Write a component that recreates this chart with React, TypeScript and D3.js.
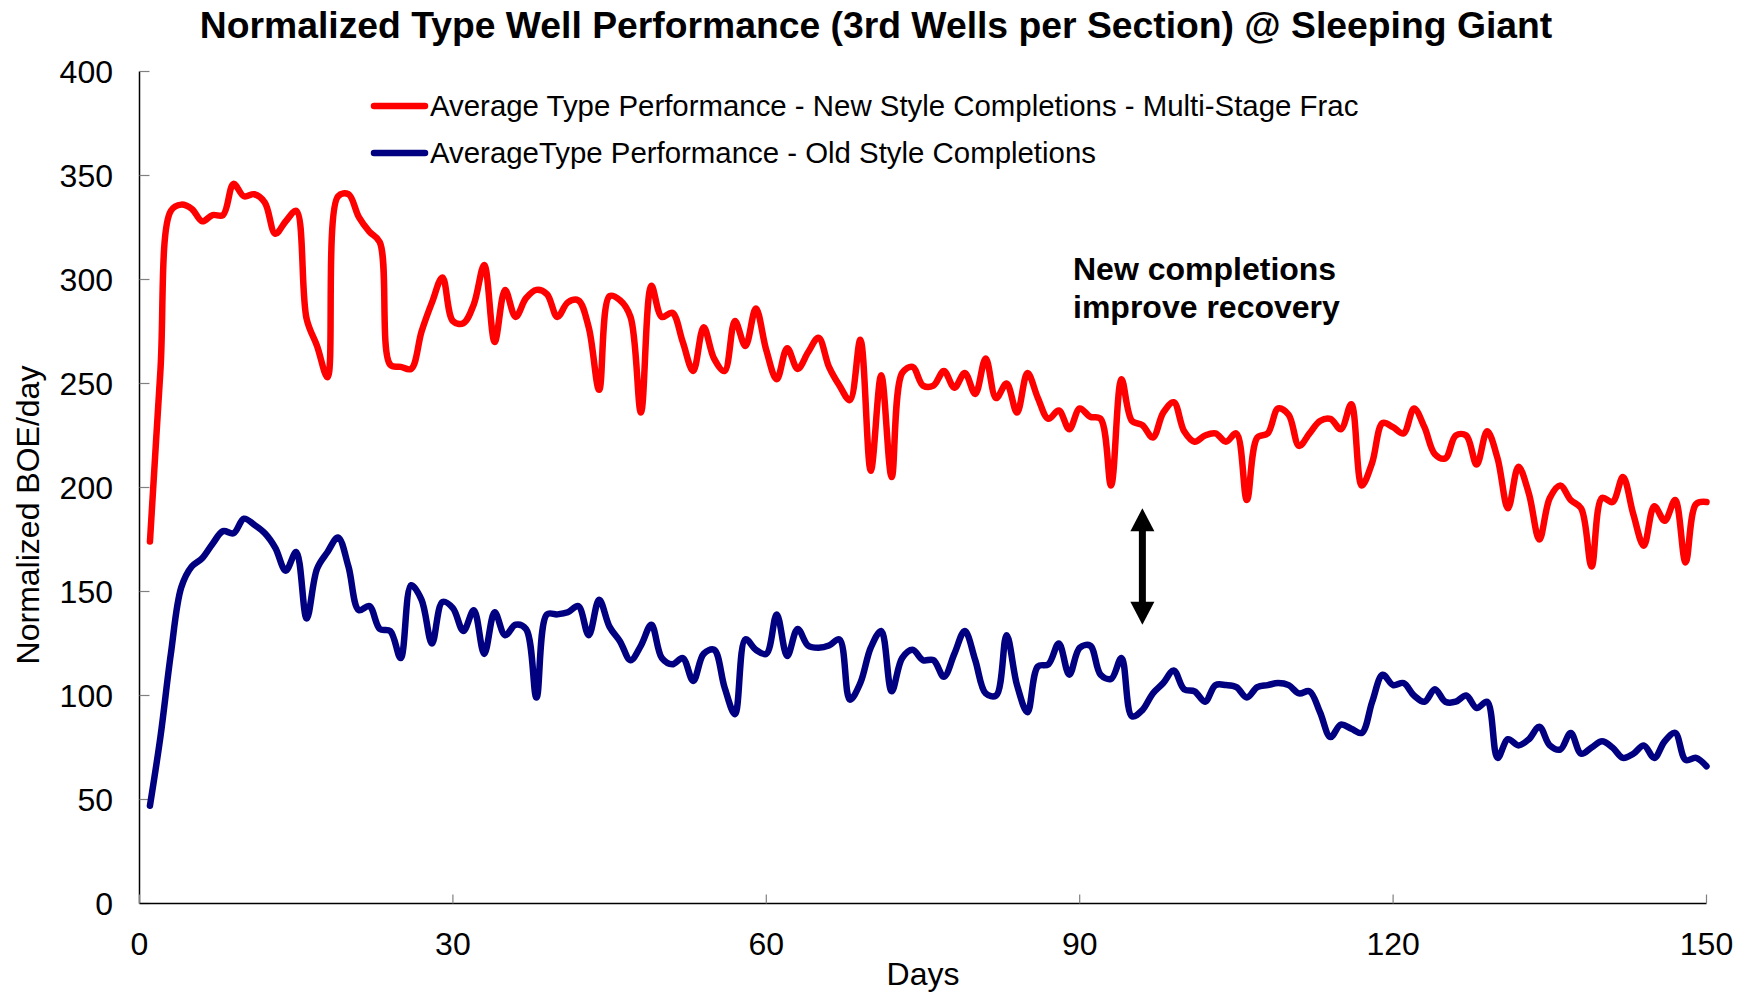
import React from "react";
import * as d3 from "d3";

const TITLE = "Normalized Type Well Performance (3rd Wells per Section) @ Sleeping Giant";
const SERIES_NAMES = [
  "Average Type Performance - New Style Completions - Multi-Stage Frac",
  "AverageType Performance - Old Style Completions",
];
const SERIES_COLORS = ["#FF0000", "#000080"];
const X_TICKS = [0, 30, 60, 90, 120, 150];
const Y_TICKS = [0, 50, 100, 150, 200, 250, 300, 350, 400];
const ANNOTATION = ["New completions", "improve recovery"];

// New style completions (days 1..150)
const newStyle = [
  174, 256, 333, 336, 334, 328, 331, 331, 346, 340,
  341, 337, 322, 328, 333, 281, 268, 253, 340, 341,
  330, 323, 318, 259, 258, 257, 275, 289, 301, 280,
  279, 288, 307, 270, 295, 282, 291, 295, 293, 282,
  289, 290, 277, 247, 292, 290, 282, 236, 297, 282,
  284, 270, 256, 277, 262, 256, 280, 268, 286, 266,
  252, 267, 257, 265, 272, 258, 249, 242, 271, 208,
  254, 205, 255, 258, 249, 249, 256, 248, 255, 245,
  262, 243, 250, 236, 255, 243, 233, 237, 228, 238,
  234, 233, 201, 252, 232, 230, 224, 236, 241, 227,
  222, 225, 226, 222, 226, 194, 224, 226, 238, 235,
  220, 226, 232, 233, 228, 240, 201, 212, 231, 229,
  226, 238, 229, 216, 214, 225, 225, 211, 227, 214,
  190, 210, 197, 175, 195, 201, 194, 190, 162, 195,
  193, 205, 187, 172, 191, 184, 194, 164, 192, 193,
];

// Old style completions (days 1..150)
const oldStyle = [
  47, 80, 120, 152, 162, 166, 173, 179, 178, 185,
  182, 178, 171, 160, 169, 137, 161, 169, 176, 162,
  141, 143, 132, 131, 118, 153, 146, 125, 145, 142,
  131, 141, 120, 140, 129, 134, 132, 99, 139, 139,
  140, 143, 129, 146, 133, 126, 117, 124, 134, 118,
  115, 118, 107, 120, 122, 104, 91, 127, 122, 120,
  139, 119, 132, 124, 123, 124, 127, 98, 106, 123,
  131, 102, 118, 122, 117, 117, 109, 120, 131, 117,
  101, 100, 129, 105, 92, 114, 115, 125, 110, 123,
  124, 110, 108, 118, 90, 93, 101, 106, 112, 103,
  102, 97, 105, 105, 104, 99, 104, 105, 106, 105,
  101, 102, 92, 80, 86, 84, 82, 97, 110, 105,
  106, 100, 97, 103, 97, 97, 100, 94, 97, 70,
  79, 76, 79, 85, 76, 74, 82, 72, 75, 78,
  75, 70, 72, 76, 70, 78, 82, 69, 70, 66,
];

const W = 1749;
const H = 993;
const FONT = "'Liberation Sans', Arial, Helvetica, sans-serif";

export default function App() {
  const x = d3.scaleLinear().domain([0, 150]).range([139.5, 1706.5]);
  const y = d3.scaleLinear().domain([0, 400]).range([903.5, 71.5]);

  const line = d3
    .line<number>()
    .x((_, i) => x(i + 1))
    .y((d) => y(d))
    .curve(d3.curveCatmullRom.alpha(0.5));

  const series = [newStyle, oldStyle];

  const arrowX = x(96);
  const arrowTop = y(190);
  const arrowBot = y(134);
  const headH = 23;
  const headW = 12;

  return (
    <div style={{ position: "fixed", left: 0, top: 0, width: W, height: H, background: "#fff" }}>
      <svg width={W} height={H} style={{ display: "block" }}>
        <rect x={0} y={0} width={W} height={H} fill="#fff" />
        <text
          x={876}
          y={38}
          textAnchor="middle"
          fontFamily={FONT}
          fontWeight="bold"
          fontSize={37.3}
          fill="#000"
        >
          {TITLE}
        </text>

        {/* Y axis */}
        <line x1={x(0)} x2={x(0)} y1={y(400)} y2={y(0)} stroke="#000" strokeWidth={1.5} />
        {Y_TICKS.map((t) => (
          <g key={"y" + t}>
            <line x1={x(0)} x2={x(0) + 10} y1={y(t)} y2={y(t)} stroke="#808080" strokeWidth={1.2} />
            <text
              x={113}
              y={y(t)}
              dy="0.36em"
              textAnchor="end"
              fontFamily={FONT}
              fontSize={32}
              fill="#000"
            >
              {t}
            </text>
          </g>
        ))}

        {/* X axis */}
        <line x1={x(0)} x2={x(150)} y1={y(0)} y2={y(0)} stroke="#000" strokeWidth={1.5} />
        {X_TICKS.map((t) => (
          <g key={"x" + t}>
            <line x1={x(t)} x2={x(t)} y1={y(0)} y2={y(0) - 9} stroke="#808080" strokeWidth={1.2} />
            <text
              x={x(t)}
              y={955}
              textAnchor="middle"
              fontFamily={FONT}
              fontSize={32}
              fill="#000"
            >
              {t}
            </text>
          </g>
        ))}
        <text x={923} y={985} textAnchor="middle" fontFamily={FONT} fontSize={32} fill="#000">
          Days
        </text>
        <text
          transform={`translate(39, 515) rotate(-90)`}
          textAnchor="middle"
          fontFamily={FONT}
          fontSize={32}
          fill="#000"
        >
          Normalized BOE/day
        </text>

        {/* Series */}
        {series.map((s, i) => (
          <path
            key={"s" + i}
            d={line(s) || ""}
            fill="none"
            stroke={SERIES_COLORS[i]}
            strokeWidth={6.5}
            strokeLinejoin="round"
            strokeLinecap="round"
          />
        ))}

        {/* Legend */}
        {SERIES_NAMES.map((name, i) => {
          const ly = 106 + i * 47;
          return (
            <g key={"l" + i}>
              <line
                x1={374}
                x2={425}
                y1={ly}
                y2={ly}
                stroke={SERIES_COLORS[i]}
                strokeWidth={6.5}
                strokeLinecap="round"
              />
              <text x={430} y={ly} dy="0.35em" fontFamily={FONT} fontSize={29.4} fill="#000">
                {name}
              </text>
            </g>
          );
        })}

        {/* Annotation */}
        {ANNOTATION.map((t, i) => (
          <text
            key={"a" + i}
            x={1073}
            y={280 + i * 38}
            fontFamily={FONT}
            fontWeight="bold"
            fontSize={32}
            fill="#000"
          >
            {t}
          </text>
        ))}
        <line
          x1={arrowX}
          x2={arrowX}
          y1={arrowTop + headH - 2}
          y2={arrowBot - headH + 2}
          stroke="#000"
          strokeWidth={7}
        />
        <path
          d={`M${arrowX},${arrowTop} L${arrowX - headW},${arrowTop + headH} L${arrowX + headW},${arrowTop + headH} Z`}
          fill="#000"
        />
        <path
          d={`M${arrowX},${arrowBot} L${arrowX - headW},${arrowBot - headH} L${arrowX + headW},${arrowBot - headH} Z`}
          fill="#000"
        />
      </svg>
    </div>
  );
}
